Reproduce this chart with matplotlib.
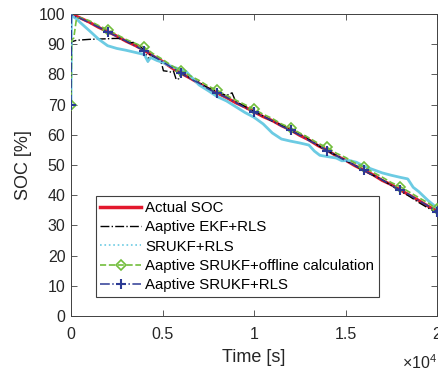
import numpy as np
import matplotlib
matplotlib.use("Agg")
import matplotlib.pyplot as plt
from matplotlib.lines import Line2D

plt.rcParams["font.family"] = ["Liberation Sans", "DejaVu Sans"]
plt.rcParams["mathtext.fontset"] = "custom"
plt.rcParams["mathtext.rm"] = "Liberation Sans"

# time grid for the reference curve (s)
t_ref = list(range(0, 20001, 500))
soc_actual = [100.0, 98.7, 97.3, 95.6, 94.2, 92.7, 91.0, 89.6, 88.0, 86.0,
              84.3, 82.2, 80.4, 78.8, 77.0, 75.3, 73.8, 72.3, 70.6, 69.2,
              67.6, 66.0, 64.7, 63.0, 61.6, 59.8, 58.3, 56.4, 54.9, 53.0,
              51.6, 49.8, 48.3, 46.8, 44.9, 43.5, 41.7, 40.0, 38.3, 36.4, 34.8]

# Aaptive EKF+RLS
t_ekf = [0, 30, 300, 1000, 1500, 2000, 2300, 2600, 2800, 3000, 3200, 3400,
         3600, 3800, 4000, 4100, 4200, 4300, 4500, 4800, 4950, 5050, 5300,
         5500, 5600, 5750, 5900, 6000, 6500, 7000, 7500, 8000, 8500, 8800,
         9000, 9500, 10000, 10500, 11000, 11500, 12000, 12500, 12800, 13000,
         13500, 14000, 14500, 15000, 15500, 16000, 16500, 17000, 17500, 18000,
         18500, 19000, 19500, 20000]
soc_ekf = [70.0, 90.8, 91.3, 91.6, 91.7, 91.8, 91.9, 91.9, 91.6, 91.1, 90.4, 90.6,
           89.9, 89.2, 87.8, 86.6, 84.2, 86.6, 85.8, 84.7, 83.6, 81.2, 81.0,
           80.7, 81.1, 78.3, 78.6, 80.4, 78.9, 77.3, 75.5, 74.2, 73.0, 73.9,
           71.0, 69.4, 67.8, 66.2, 64.5, 63.2, 61.4, 60.0, 59.7, 58.4,
           56.5, 54.6, 53.2, 51.5, 49.9, 48.1, 46.6, 45.1, 43.2, 41.4,
           39.6, 37.6, 35.8, 34.2]

# SRUKF+RLS
t_srukf = [0, 20, 300, 500, 1000, 1500, 2000, 2500, 3000, 3500, 4000, 4200,
           4350, 4700, 5000, 5500, 6000, 6300, 6500, 7000, 7500, 8000, 8500,
           9000, 9500, 10000, 10500, 11000, 11500, 12000, 12500, 13000, 13300,
           13600, 14000, 14500, 14800, 15200, 15600, 16000, 16500, 17000, 17500,
           18000, 18400, 18700, 19000, 19500, 20000]
soc_srukf = [70.0, 99.5, 98.4, 97.2, 94.5, 91.7, 89.5, 88.6, 88.0, 87.3, 86.6, 84.3,
             85.6, 84.6, 84.0, 82.6, 81.6, 80.9, 79.6, 76.5, 74.6, 72.6, 71.2,
             69.3, 67.4, 65.8, 63.6, 60.6, 58.6, 57.9, 57.3, 56.6, 54.6,
             53.2, 52.8, 52.3, 51.4, 51.5, 50.9, 49.6, 48.5, 47.4, 46.6,
             45.9, 45.4, 42.6, 41.2, 38.3, 35.8]

# Aaptive SRUKF+offline calculation
t_off = [0, 40, 150, 300] + list(range(500, 20001, 500))
soc_off = [70.0, 91.5, 92.0, 98.5,
           98.8, 97.8, 96.2, 94.8, 93.2, 91.6, 90.3, 89.0, 86.8, 85.0,
           82.9, 81.2, 79.6, 78.0, 76.1, 74.7, 73.0, 71.5, 70.0, 68.5,
           66.8, 65.4, 63.6, 62.3, 60.6, 59.0, 57.2, 55.8, 53.9, 52.5,
           50.7, 49.3, 47.6, 46.0, 44.2, 42.8, 41.0, 39.2, 37.5, 35.4]

# Aaptive SRUKF+RLS
t_ad = [0, 20] + list(range(500, 20001, 500))
soc_ad = [70.0, 99.6,
          98.6, 97.1, 95.7, 94.0, 92.6, 91.1, 89.4, 87.9, 86.1, 84.2,
          82.3, 80.5, 78.6, 77.1, 75.2, 73.7, 72.4, 70.7, 69.0, 67.4,
          66.1, 64.6, 62.9, 61.5, 59.9, 58.1, 56.6, 54.7, 53.1, 51.4,
          49.9, 48.2, 46.6, 45.1, 43.3, 41.6, 40.1, 38.2, 36.5, 34.6]

x_ticks = [0, 5000, 10000, 15000, 20000]
x_tick_labels = ["0", "0.5", "1", "1.5", "2"]
y_ticks = list(range(0, 101, 10))

RED = "#e3182d"
CYAN = "#6ccbe3"
GREEN = "#72be3c"
BLUE = "#2c3a94"
AX = "0.25"

fig = plt.figure(figsize=(4.38, 3.75), dpi=100)
ax = fig.add_axes([71 / 438, 1 - 316 / 375, 366 / 438, 302 / 375])

ax.plot(t_ref, soc_actual, color=RED, lw=2.2, zorder=2)
ax.plot(t_ekf, soc_ekf, color="k", lw=1.0, ls="-.", zorder=3)
ax.plot(t_srukf, soc_srukf, color=CYAN, lw=2.0, zorder=3)
ax.plot(t_off, soc_off, color=GREEN, lw=1.2, ls="--", marker="D", ms=5,
        mfc="none", mec=GREEN, mew=1.2,
        markevery=[0] + [3 + 4 * k for k in range(1, 11)], zorder=4)
ax.plot(t_ad, soc_ad, color=BLUE, lw=1.1, ls="-.", marker="+", ms=6.5, mew=1.5,
        markevery=[0] + [1 + 4 * k for k in range(1, 11)], zorder=5)

handles = [
    Line2D([], [], color=RED, lw=2.5),
    Line2D([], [], color="k", lw=1.0, ls="-."),
    Line2D([], [], color=CYAN, lw=1.2, ls=":"),
    Line2D([], [], color=GREEN, lw=1.2, ls="--", marker="D", ms=5, mfc="none", mew=1.2),
    Line2D([], [], color=BLUE, lw=1.1, ls="-.", marker="+", ms=6.5, mew=1.5),
]
labels = ["Actual SOC", "Aaptive EKF+RLS", "SRUKF+RLS",
          "Aaptive SRUKF+offline calculation", "Aaptive SRUKF+RLS"]
leg = ax.legend(handles, labels, loc="lower left", bbox_to_anchor=(0.068, 0.063),
                fontsize=10.8, handlelength=2.7, handletextpad=0.3,
                labelspacing=0.36, borderpad=0.3, borderaxespad=0,
                frameon=True, fancybox=False, framealpha=1)
leg.get_frame().set_edgecolor(AX)
leg.get_frame().set_linewidth(0.8)

ax.set_xlim(0, 20000)
ax.set_ylim(0, 100)
ax.set_xticks(x_ticks)
ax.set_xticklabels(x_tick_labels)
ax.set_yticks(y_ticks)
ax.tick_params(direction="in", top=True, right=True, length=4, width=0.6,
               color=AX, labelcolor="0.15", labelsize=11.5, pad=4)
ax.tick_params(axis="x", pad=8)
for s in ax.spines.values():
    s.set_color(AX)
    s.set_linewidth(0.7)

ax.set_xlabel("Time [s]", fontsize=13, color="0.15", labelpad=5)
ax.set_ylabel("SOC [%]", fontsize=13, color="0.15", labelpad=5)
ax.text(1.0, -0.155, r"$\times10^{4}$", transform=ax.transAxes, ha="right",
        va="center", fontsize=11.5, color="0.15")

fig.savefig("out.png", dpi=100)
